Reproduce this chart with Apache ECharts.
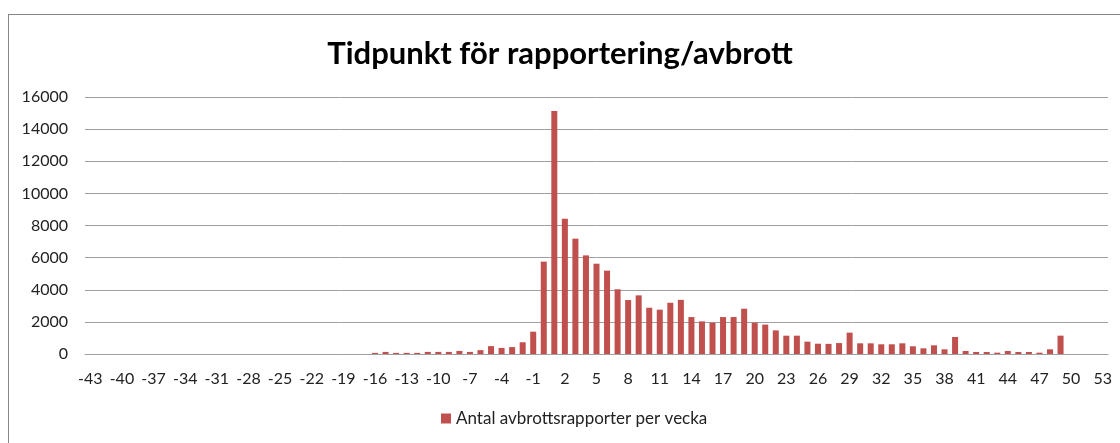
<!DOCTYPE html>
<html>
<head>
<meta charset="utf-8">
<script src="https://cdn.jsdelivr.net/npm/echarts@6/dist/echarts.min.js"></script>
<style>
html,body{margin:0;padding:0;background:#fff;}
#frame{position:absolute;left:8px;top:14px;width:1200px;height:600px;border:1.5px solid #878787;box-sizing:border-box;}
#chart{position:absolute;left:0;top:0;width:1120px;height:443px;}
</style>
</head>
<body>
<div id="frame"></div>
<div id="chart"></div>
<script>
const categories = ['-43','-42','-41','-40','-39','-38','-37','-36','-35','-34','-33','-32','-31','-30','-29','-28','-27','-26','-25','-24','-23','-22','-21','-20','-19','-18','-17','-16','-15','-14','-13','-12','-11','-10','-9','-8','-7','-6','-5','-4','-3','-2','-1','0','1','2','3','4','5','6','7','8','9','10','11','12','13','14','15','16','17','18','19','20','21','22','23','24','25','26','27','28','29','30','31','32','33','34','35','36','37','38','39','40','41','42','43','44','45','46','47','48','49','50','51','52','53'];
const reportsPerWeek = [
  0,0,0,0,0,0,0,0,0,0,0,0,0,0,0,0,0,0,0,0,0,0,0,0,0,0,0,
  70,130,70,70,70,130,130,130,190,130,240,490,380,430,730,1390,
  5750,15130,8420,7180,6140,5620,5190,4030,3360,3650,2880,2760,3190,3370,2300,2030,
  1950,2300,2300,2820,1950,1830,1470,1140,1140,770,640,630,680,1330,665,665,604,604,665,
  480,353,541,291,1060,187,125,125,83,187,125,125,83,291,1142,
  0,0,0,0
];
const yTicks = { min: 0, max: 16000, interval: 2000 };
const titleText = 'Tidpunkt för rapportering/avbrott';
const seriesName = 'Antal avbrottsrapporter per vecka';

const chart = echarts.init(document.getElementById('chart'));
const font = 'Lato, "Open Sans", sans-serif';
chart.setOption({
  animation: false,
  title: {
    text: titleText, left: 'center', top: 33,
    textStyle: { fontFamily: font, fontSize: 31, fontWeight: 'bold', color: '#000' }
  },
  legend: {
    bottom: 11, left: 436, icon: 'rect', itemWidth: 10, itemHeight: 10, itemGap: 6,
    textStyle: { fontFamily: font, fontSize: 17, color: '#222' },
    data: [seriesName]
  },
  grid: { left: 85, right: 12, top: 97, bottom: 89 },
  xAxis: {
    type: 'category', data: categories,
    axisTick: { show: false },
    axisLine: { lineStyle: { color: '#a0a0a0', width: 1 } },
    axisLabel: { interval: 2, fontFamily: font, fontSize: 16, color: '#222', margin: 17 }
  },
  yAxis: {
    type: 'value', min: yTicks.min, max: yTicks.max, interval: yTicks.interval,
    axisLine: { show: false }, axisTick: { show: false },
    splitLine: { lineStyle: { color: '#a0a0a0', width: 1 } },
    axisLabel: { fontFamily: font, fontSize: 16, color: '#222', margin: 17, formatter: v => String(v) }
  },
  series: [{
    name: seriesName, type: 'bar', data: reportsPerWeek,
    barCategoryGap: '43%',
    itemStyle: { color: '#C0504D' }
  }]
});
</script>
</body>
</html>
